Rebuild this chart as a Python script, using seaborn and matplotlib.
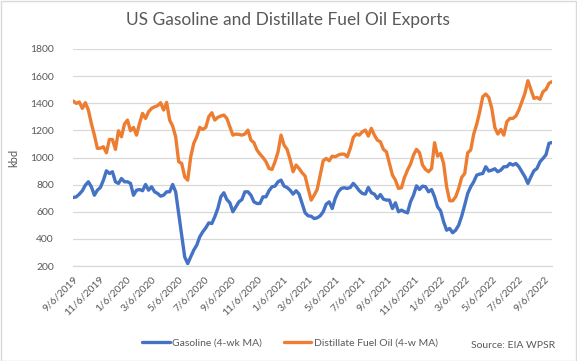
import matplotlib
matplotlib.use("Agg")
import matplotlib.pyplot as plt
import seaborn as sns
import pandas as pd
from matplotlib.patches import Rectangle

# ---------------- data ----------------
start_date = "2019-09-06"

gasoline = [
    705, 710, 730, 755, 796, 821, 784, 722, 759, 779,
    833, 902, 882, 895, 821, 809, 845, 821, 821, 809,
    722, 759, 764, 755, 801, 759, 784, 747, 735, 715,
    722, 747, 747, 801, 747, 587, 427, 267, 218, 267,
    317, 354, 415, 452, 481, 518, 513, 563, 624, 710,
    740, 690, 666, 600, 636, 673,
    690, 747, 747, 722, 673, 661, 661, 710, 710, 755,
    784, 789, 821, 833, 789, 779, 759, 730, 755, 730,
    661, 592, 570, 567, 550, 555, 570, 600, 656, 673,
    624, 698, 747, 772, 777, 772, 779, 809, 784, 755,
    735, 730, 779, 740, 730, 698, 727, 693, 686, 686,
    624, 666, 600,
    612, 600, 592, 673, 722, 791, 764, 789, 784, 747,
    764, 710, 636, 607, 526, 464, 477, 445, 464, 501,
    567, 649, 735, 784, 821, 870, 878, 882, 932, 900,
    907, 917, 895, 907, 932, 932, 956, 944, 956, 932,
    895, 858, 809, 858, 902, 919, 968, 993, 1020, 1105,
    1110,
]

distillate = [
    1416, 1399, 1409, 1362, 1404, 1350, 1251, 1165, 1067, 1069,
    1079, 1035, 1133, 1133, 1060, 1197, 1153, 1246, 1276, 1197,
    1222, 1165, 1251, 1325, 1288, 1337, 1362, 1374, 1382, 1404,
    1350, 1406, 1276, 1232, 1153, 969, 956, 858, 833, 1005,
    1104, 1153, 1222, 1207, 1222, 1301, 1330, 1276, 1296, 1306,
    1313, 1288, 1227, 1165, 1173, 1170,
    1165, 1173, 1202, 1128, 1109, 1055, 1025, 1000, 969, 919,
    912, 969, 1042, 1165, 1092, 1060, 986, 895, 944, 919,
    887, 863, 772, 686, 722, 764, 870, 976, 993, 976,
    1010, 1005, 1018, 1025, 1025, 1005, 1067, 1148, 1173, 1165,
    1190, 1202, 1158, 1215, 1165, 1128, 1116, 1060, 1042, 956,
    870, 833, 772,
    777, 853, 907, 951, 1018, 1060, 1035, 944, 912, 895,
    919, 1109, 1010, 1030, 956, 784, 681, 681, 710, 772,
    853, 882, 1035, 1055, 1173, 1246, 1338, 1448, 1468, 1443,
    1362, 1222, 1173, 1207, 1165, 1264, 1288, 1288, 1306, 1350,
    1411, 1473, 1566, 1502, 1436, 1443, 1429, 1485, 1502, 1547,
    1559,
]

series_names = ["Gasoline (4-wk MA)", "Distillate Fuel Oil (4-w MA)"]
series_colors = ["#4472C4", "#ED7D31"]

tick_labels = [
    "9/6/2019", "11/6/2019", "1/6/2020", "3/6/2020", "5/6/2020", "7/6/2020",
    "9/6/2020", "11/6/2020", "1/6/2021", "3/6/2021", "5/6/2021", "7/6/2021",
    "9/6/2021", "11/6/2021", "1/6/2022", "3/6/2022", "5/6/2022", "7/6/2022",
    "9/6/2022",
]
y_ticks = [200, 400, 600, 800, 1000, 1200, 1400, 1600, 1800]

title = "US Gasoline and Distillate Fuel Oil Exports"
y_label = "kbd"
source_note = "Source: EIA WPSR"

# ---------------- frame ----------------
n = len(gasoline)
dates = pd.date_range(start_date, periods=n, freq="7D")
df = pd.DataFrame({
    "date": list(dates) * 2,
    "kbd": gasoline + distillate,
    "series": [series_names[0]] * n + [series_names[1]] * len(distillate),
})

sns.set_style("white")
plt.rcParams["font.family"] = ["Lato", "DejaVu Sans"]

W, H = 577, 361
fig = plt.figure(figsize=(W / 100, H / 100), dpi=100)
left, right, top, bottom = 73.3, 552, 49, 266
ax = fig.add_axes([left / W, 1 - bottom / H, (right - left) / W, (bottom - top) / H])

sns.lineplot(data=df, x="date", y="kbd", hue="series", hue_order=series_names,
             palette=series_colors, linewidth=2.4, ax=ax)

text_color = "#595959"
grid_color = "#D9D9D9"

ax.set_ylim(y_ticks[0], y_ticks[-1])
ax.set_yticks(y_ticks)
ax.set_yticklabels([str(v) for v in y_ticks])
ax.set_xlim(dates[0], dates[-1])
tick_pos = pd.to_datetime(tick_labels, format="%m/%d/%Y")
ax.set_xticks(tick_pos)
ax.set_xticklabels(tick_labels, rotation=45, ha="right", rotation_mode="anchor")

ax.grid(axis="y", color=grid_color, linewidth=0.9)
ax.set_axisbelow(True)
for s in ["left", "right", "top"]:
    ax.spines[s].set_visible(False)
ax.spines["bottom"].set_color(grid_color)
ax.spines["bottom"].set_linewidth(0.9)

ax.tick_params(axis="y", length=0, pad=14, labelsize=7.5, labelcolor=text_color)
ax.tick_params(axis="x", length=4, width=0.9, color=grid_color, direction="out",
               pad=2, labelsize=7.5, labelcolor=text_color)
ax.set_xlabel("")
ax.set_ylabel("")

fig.text(14 / W, 1 - 158 / H, y_label, rotation=90, ha="center", va="center",
         fontsize=8, color=text_color)
fig.text(288 / W, 1 - 20 / H, title, ha="center", va="center",
         fontsize=12.5, color=text_color)
fig.text(555 / W, 1 - 345 / H, source_note, ha="right", va="center",
         fontsize=7.5, color=text_color)

sns.move_legend(ax, "center", bbox_to_anchor=(290 / W, 1 - 343 / H),
                bbox_transform=fig.transFigure, ncol=2, frameon=False, title=None,
                fontsize=7.5, handlelength=2.6, handletextpad=0.2, columnspacing=2.2,
                labelcolor=text_color)

fig.add_artist(Rectangle((0.5 / W, 0.5 / H), 1 - 1.5 / W, 1 - 1.5 / H,
                         transform=fig.transFigure, fill=False,
                         edgecolor=grid_color, linewidth=1))

fig.savefig("out.png", dpi=100)
